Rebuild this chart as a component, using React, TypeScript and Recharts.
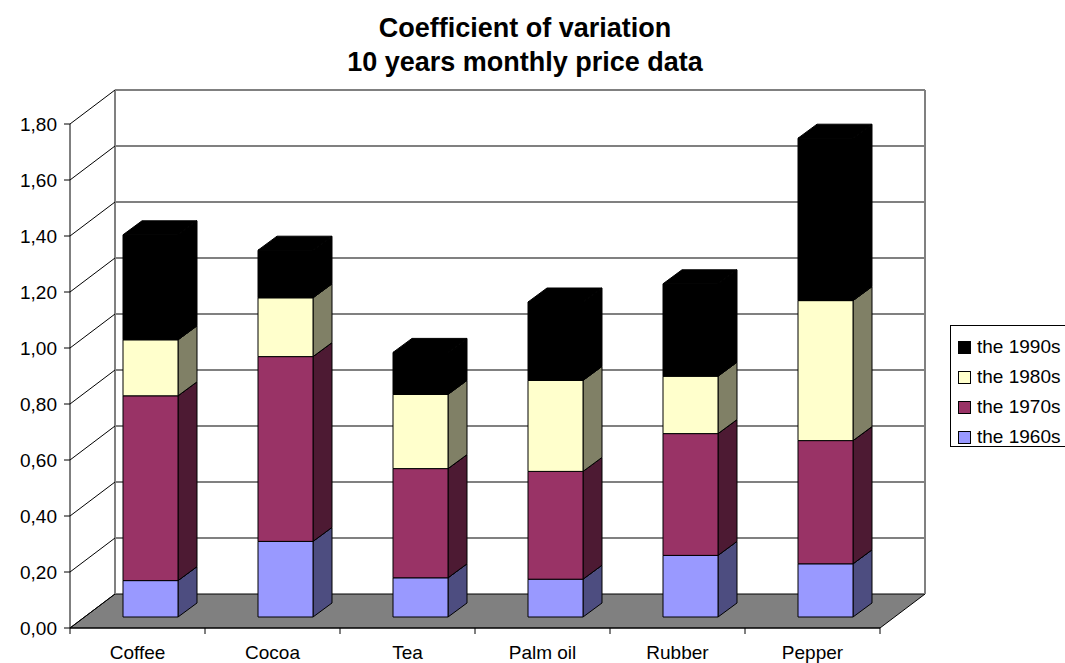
import { BarChart, Bar, XAxis, YAxis, CartesianGrid } from "recharts";

const categories = ["Coffee", "Cocoa", "Tea", "Palm oil", "Rubber", "Pepper"];
const the1960s = [0.13, 0.27, 0.14, 0.135, 0.22, 0.19];
const the1970s = [0.66, 0.66, 0.39, 0.385, 0.435, 0.44];
const the1980s = [0.2, 0.21, 0.265, 0.325, 0.205, 0.5];
const the1990s = [0.375, 0.17, 0.15, 0.28, 0.33, 0.58];
const yTicks = [0, 0.2, 0.4, 0.6, 0.8, 1.0, 1.2, 1.4, 1.6, 1.8];

// bottom of the stack first
const series = [
  { key: "d1960", name: "the 1960s", fill: "#9999FF", side: "#4D4D80" },
  { key: "d1970", name: "the 1970s", fill: "#993366", side: "#4D1A33" },
  { key: "d1980", name: "the 1980s", fill: "#FFFFCC", side: "#808066" },
  { key: "d1990", name: "the 1990s", fill: "#000000", side: "#000000" },
];

const data = categories.map((name, i) => ({
  name,
  d1960: the1960s[i],
  d1970: the1970s[i],
  d1980: the1980s[i],
  d1990: the1990s[i],
}));

const FONT = "'Liberation Sans', Arial, sans-serif";

// depth of the walls, offset of the bars into the box, and bar thickness
const WALL_DX = 45;
const WALL_DY = -34;
const BAR_DX = 13;
const BAR_DY = -11;
const DEPTH_DX = 19;
const DEPTH_DY = -14;

const WallLine = (props: any) => {
  const { x1, x2, y1, y, height } = props;
  const bottom = y + height;
  const isFloor = Math.abs(y1 - bottom) < 1;
  return (
    <g>
      {isFloor && (
        <>
          <polygon
            points={`${x1},${y1} ${x2},${y1} ${x2 + WALL_DX},${y1 + WALL_DY} ${x1 + WALL_DX},${y1 + WALL_DY}`}
            fill="#808080"
            stroke="#000"
            strokeWidth={1}
          />
          <line x1={x1 + WALL_DX} y1={y + WALL_DY} x2={x1 + WALL_DX} y2={bottom + WALL_DY} stroke="#808080" strokeWidth={2} />
          <line x1={x2 + WALL_DX} y1={y + WALL_DY} x2={x2 + WALL_DX} y2={bottom + WALL_DY} stroke="#808080" strokeWidth={2} />
        </>
      )}
      <line x1={x1} y1={y1} x2={x1 + WALL_DX} y2={y1 + WALL_DY} stroke="#000" strokeWidth={1} />
      {!isFloor && (
        <line x1={x1 + WALL_DX} y1={y1 + WALL_DY} x2={x2 + WALL_DX} y2={y1 + WALL_DY} stroke="#808080" strokeWidth={2} />
      )}
    </g>
  );
};

const Box3D = (props: any) => {
  const { x, y, width, height, fill, side } = props;
  if (!height || height <= 0) return null;
  const fx = x + BAR_DX;
  const fy = y + BAR_DY;
  const r = fx + width;
  return (
    <g stroke="#000" strokeWidth={1} strokeLinejoin="round">
      <polygon
        points={`${r},${fy} ${r + DEPTH_DX},${fy + DEPTH_DY} ${r + DEPTH_DX},${fy + height + DEPTH_DY} ${r},${fy + height}`}
        fill={side}
      />
      <polygon
        points={`${fx},${fy} ${fx + DEPTH_DX},${fy + DEPTH_DY} ${r + DEPTH_DX},${fy + DEPTH_DY} ${r},${fy}`}
        fill={fill}
      />
      <rect x={fx} y={fy} width={width} height={height} fill={fill} />
    </g>
  );
};

const CategoryTick = (props: any) => {
  const { x, y, payload, index, visibleTicksCount } = props;
  const half = payload?.offset ?? 67.5;
  const last = index === visibleTicksCount - 1;
  return (
    <g>
      <line x1={x - half} y1={y} x2={x - half} y2={y + 6} stroke="#000" />
      {last && <line x1={x + half} y1={y} x2={x + half} y2={y + 6} stroke="#000" />}
      <text x={x} y={y + 31} textAnchor="middle" fill="#000" fontSize={19} fontFamily={FONT}>
        {payload.value}
      </text>
    </g>
  );
};

export default function App() {
  return (
    <div
      style={{
        position: "absolute",
        left: 0,
        top: 0,
        width: 1065,
        height: 663,
        overflow: "hidden",
        background: "#fff",
        fontFamily: FONT,
      }}
    >
      <div
        style={{
          position: "absolute",
          left: 0,
          top: 11,
          width: 1050,
          textAlign: "center",
          fontSize: 27,
          lineHeight: "34px",
          fontWeight: "bold",
          color: "#000",
        }}
      >
        Coefficient of variation
        <br />
        10 years monthly price data
      </div>

      <BarChart
        width={1065}
        height={663}
        data={data}
        margin={{ top: 124, right: 185, bottom: 5, left: 10 }}
      >
        <CartesianGrid vertical={false} horizontal={WallLine} />
        <XAxis
          dataKey="name"
          height={30}
          axisLine={{ stroke: "#000" }}
          tickLine={false}
          tickSize={0}
          tickMargin={0}
          tick={<CategoryTick />}
          interval={0}
        />
        <YAxis
          width={60}
          domain={[0, 1.8]}
          ticks={yTicks}
          axisLine={{ stroke: "#000" }}
          tickLine={{ stroke: "#000" }}
          tickSize={6}
          tickMargin={7}
          tick={{ fill: "#000", fontSize: 19, fontFamily: FONT }}
          tickFormatter={(v: number) => v.toFixed(2).replace(".", ",")}
        />
        {series.map((s) => (
          <Bar
            key={s.key}
            dataKey={s.key}
            name={s.name}
            stackId="decades"
            fill={s.fill}
            barSize={55}
            isAnimationActive={false}
            shape={(p: any) => <Box3D {...p} fill={s.fill} side={s.side} />}
          />
        ))}
      </BarChart>

      <div
        style={{
          position: "absolute",
          left: 950,
          top: 325,
          width: 130,
          height: 122,
          border: "1px solid #000",
          background: "#fff",
          paddingTop: 6,
          paddingLeft: 7,
          boxSizing: "border-box",
        }}
      >
        {[...series].reverse().map((s) => (
          <div key={s.key} style={{ display: "flex", alignItems: "center", height: 30 }}>
            <div
              style={{
                width: 13,
                height: 13,
                background: s.fill,
                border: "1px solid #000",
                boxSizing: "border-box",
                marginRight: 6,
              }}
            />
            <span style={{ fontSize: 19, color: "#000", whiteSpace: "nowrap" }}>{s.name}</span>
          </div>
        ))}
      </div>
    </div>
  );
}
